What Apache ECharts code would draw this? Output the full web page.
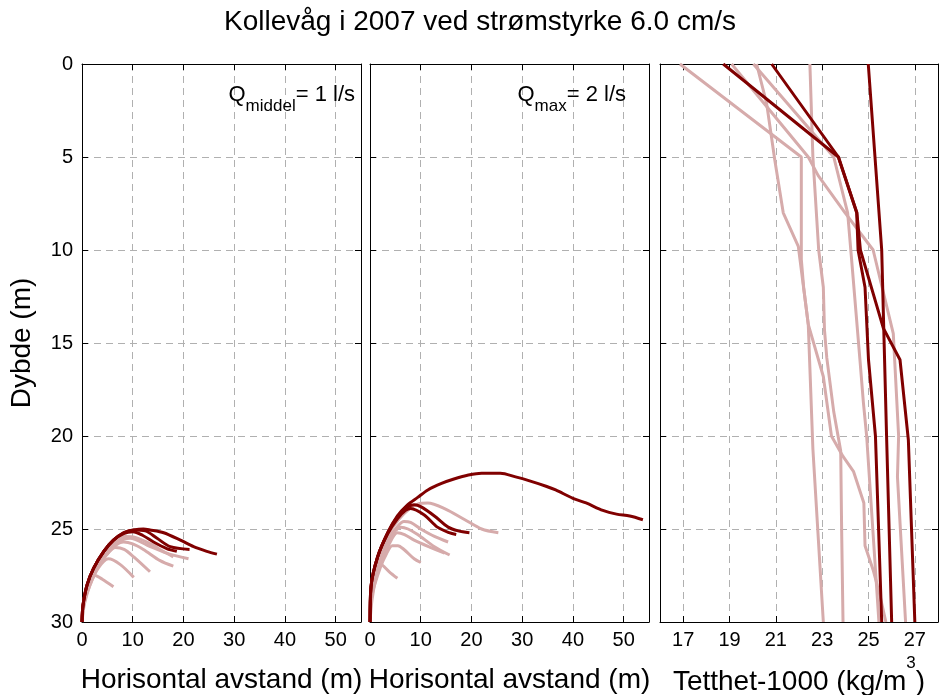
<!DOCTYPE html>
<html>
<head>
<meta charset="utf-8">
<script src="https://cdn.jsdelivr.net/npm/echarts@6/dist/echarts.min.js"></script>
<style>html,body{margin:0;padding:0;background:#fff}#c{width:940px;height:695px}</style>
</head>
<body>
<div id="c"></div>
<script>
// ---------- data ----------
const chartTitle = 'Kollevåg i 2007 ved strømstyrke 6.0 cm/s';
const depthTicks = [0, 5, 10, 15, 20, 25, 30];
const distanceTicks = [0, 10, 20, 30, 40, 50];
const densityTicks = [17, 19, 21, 23, 25, 27];

// Panel 1 (Q middel = 1 l/s): [horizontal distance m, depth m]
const middelDark = [
  [[0,30],[0.2,29.1],[1.0,28.0],[2.3,27.1],[4.3,26.2],[6.2,25.6],[8.2,25.2],[10.2,25.05],[12.1,25.0],[13.4,25.05],[16.1,25.2],[19.4,25.6],[22,25.95],[24.6,26.2],[26.6,26.35]],
  [[0,30],[0.2,29.1],[1.0,28.0],[2.3,27.1],[4.3,26.2],[6.2,25.6],[8.2,25.2],[10.2,25.05],[12.5,25.1],[14.8,25.5],[17.4,25.95],[21.2,26.1]],
  [[0,30],[0.2,29.1],[1.0,28.0],[2.3,27.1],[4.3,26.2],[6.2,25.6],[8.2,25.25],[10,25.15],[12,25.35],[14.1,25.7],[16.7,26.05],[18.7,26.2]]
];
const middelLight = [
  [[0,30],[0.3,29],[1.2,28],[2.6,27.1],[4.5,26.3],[6.5,25.8],[8.2,25.55],[9.5,25.5],[12.8,25.86],[16.7,26.3],[21,26.6]],
  [[0,30],[0.25,29],[1.1,28],[2.4,27.1],[4.4,26.25],[6.3,25.7],[8.5,25.4],[10.5,25.45],[13.5,25.8],[16,26.2],[18,26.5]],
  [[0,30],[0.3,29],[1.3,28],[2.8,27.1],[4.8,26.4],[6.5,25.9],[8.2,25.7],[10,25.8],[12.1,26.1],[15.4,26.7],[18,27.0]],
  [[0,30],[0.3,29],[1.4,28],[3,27.1],[4.8,26.4],[6.6,26.0],[8.3,26.1],[10.2,26.5],[13.4,27.3]],
  [[0,30],[0.4,29],[1.6,28],[3.2,27.1],[5.2,26.6],[7.5,26.9],[10.2,27.6]],
  [[0,30],[0.5,29],[1.6,28],[2.6,27.5],[4,27.7],[6.2,28.1]]
];

// Panel 2 (Q max = 2 l/s)
const maxDark = [
  [[0,30],[0.05,29.8],[0.2,28.1],[1.5,26.5],[3.5,25.2],[5.4,24.3],[7.4,23.7],[9.4,23.3],[11.4,22.9],[14.1,22.55],[16.7,22.3],[19.4,22.1],[22,22.0],[25.7,22.0],[28.7,22.2],[31.3,22.4],[34.7,22.7],[36.6,22.9],[40,23.35],[42.6,23.6],[45.9,24.0],[48.6,24.2],[51.2,24.3],[53.8,24.5]],
  [[0,30],[0.2,28.1],[1.5,26.5],[3.5,25.2],[5.4,24.35],[7.2,23.85],[8.7,23.7],[10,23.8],[12.7,24.3],[15.4,24.9],[17.4,25.1],[19.6,25.2]],
  [[0,30],[0.2,28.1],[1.5,26.5],[3.5,25.25],[5.4,24.45],[7,24.0],[8,23.9],[10.7,24.25],[13.3,24.9],[15.6,25.2],[17,25.3]]
];
const maxLight = [
  [[0,30],[0.2,28.2],[1.6,26.6],[3.6,25.3],[5.6,24.5],[7.6,23.95],[9.5,23.65],[11.4,23.6],[14.7,23.9],[18.7,24.5],[22,25.0],[25.3,25.2]],
  [[0,30],[0.25,28.3],[1.7,26.7],[3.7,25.5],[5.3,24.9],[6.7,24.6],[8,24.65],[10,25.0],[12.7,25.4],[15.4,25.7]],
  [[0,30],[0.3,28.4],[1.8,26.8],[3.6,25.7],[5,25.1],[6.1,24.9],[7.5,25.0],[9.4,25.3],[12.7,25.95],[15.7,26.4]],
  [[0,30],[0.3,28.5],[1.9,26.9],[3.6,25.9],[5.4,25.2],[6.8,25.3],[8.7,25.6],[12,26.0],[14.7,26.3]],
  [[0,30],[0.35,28.6],[2,27.1],[3.3,26.3],[4.4,25.9],[5.5,25.9],[6.7,26.1],[8.7,26.6],[10,26.8]],
  [[0,30],[0.4,28.8],[1.2,27.6],[2.1,26.9],[3.8,27.3],[5.4,27.65]]
];

// Panel 3: density profiles [density-1000 kg/m3, depth m]
const densityLight = [
  [[16.86,0],[22.1,5],[22.1,10.5],[22.2,12],[22.4,14],[22.6,20.7],[23.05,30]],
  [[22.47,0],[22.6,5],[22.85,10],[23.05,12],[23.1,14.3],[23.2,15.8],[23.5,18.7],[23.8,20.8],[23.84,25],[23.9,30]],
  [[20.17,0],[20.6,2.1],[20.96,5.2],[21.32,8],[21.97,9.8],[22.4,14],[23.05,16.8],[23.4,20],[23.9,21.1],[24.35,21.9],[24.8,23.6],[24.85,25.9],[25.2,27.2],[25.5,28.6],[25.75,30]],
  [[19.09,0],[22.4,5],[22.83,6],[23.99,8],[25.2,10],[26.07,14.5],[26.3,20],[26.25,22.2],[26.6,30]],
  [[20.03,0],[23.5,5],[24.1,8],[24.27,10.5],[24.63,15.9],[24.78,18.2],[24.92,20],[25.45,30]]
];
const densityDark = [
  [[18.73,0],[23.7,5],[24.49,8],[24.55,10],[24.85,12],[25.0,15.9],[25.3,20],[25.57,30]],
  [[20.82,0],[23.7,5],[24.5,8],[24.65,10],[25.64,14.2],[26.36,15.9],[26.72,20.2],[27.0,30]],
  [[24.99,0],[25.57,10],[25.78,20],[26.0,30]]
];

// ---------- styling ----------
const FONT = 'Liberation Sans, Arial, sans-serif';
const DARK = '#800000';
const LIGHT = '#d6abab';
const gridLine = {show: true, lineStyle: {color: '#b0b0b0', width: 1, type: [7, 5]}};
const tick = {show: true, inside: true, length: 6, lineStyle: {color: '#000', width: 1}};
const line = {show: true, onZero: false, lineStyle: {color: '#000', width: 1}};

const grids = [
  {left: 82, top: 64, width: 279, height: 558, outerBoundsMode: 'none', containLabel: false},
  {left: 370, top: 64, width: 279, height: 558, outerBoundsMode: 'none', containLabel: false},
  {left: 660, top: 64, width: 278, height: 558, outerBoundsMode: 'none', containLabel: false}
];

function bottomX(gi, cfg) {
  return Object.assign({
    type: 'value', gridIndex: gi, position: 'bottom',
    axisLine: line, axisTick: tick, splitLine: gridLine,
    axisLabel: {fontSize: 20, color: '#000', margin: 8, fontFamily: FONT, showMaxLabel: false},
    nameLocation: 'middle', nameGap: 44,
    nameTextStyle: {fontSize: 28, color: '#000', fontFamily: FONT}
  }, cfg);
}
function topX(gi, cfg) {
  return Object.assign({
    type: 'value', gridIndex: gi, position: 'top',
    axisLine: line, axisTick: tick, splitLine: {show: false}, axisLabel: {show: false}
  }, cfg);
}
function leftY(gi, showLabels, cfg) {
  return Object.assign({
    type: 'value', gridIndex: gi, position: 'left', inverse: true,
    min: 0, max: 30, interval: 5,
    axisLine: line, axisTick: tick, splitLine: gridLine,
    axisLabel: {show: showLabels, fontSize: 20, color: '#000', margin: 9, fontFamily: FONT}
  }, cfg);
}
function rightY(gi) {
  return {
    type: 'value', gridIndex: gi, position: 'right', inverse: true,
    min: 0, max: 30, interval: 5,
    axisLine: line, axisTick: tick, splitLine: {show: false}, axisLabel: {show: false}
  };
}

const distCfg = {min: 0, max: 55, interval: 10};
const densCfg = {min: 16, max: 28,
  axisTick: Object.assign({}, tick, {customValues: densityTicks})};

const xAxes = [
  bottomX(0, Object.assign({name: 'Horisontal avstand (m)'}, distCfg)),
  bottomX(1, Object.assign({name: 'Horisontal avstand (m)'}, distCfg)),
  bottomX(2, Object.assign({
    name: '{n|Tetthet-1000 (kg/m}{sup|3}{n|)}', nameGap: 33,
    nameTextStyle: {fontSize: 28, color: '#000', fontFamily: FONT,
      rich: {
        n: {fontSize: 28, lineHeight: 41, verticalAlign: 'bottom', color: '#000', fontFamily: FONT},
        sup: {fontSize: 17, lineHeight: 17, verticalAlign: 'top', color: '#000', fontFamily: FONT}
      }},
    axisLabel: {fontSize: 20, color: '#000', margin: 8, fontFamily: FONT, customValues: densityTicks}
  }, densCfg)),
  topX(0, distCfg), topX(1, distCfg), topX(2, densCfg)
];
const yAxes = [
  leftY(0, true, {name: 'Dybde (m)', nameLocation: 'middle', nameGap: 46,
    nameTextStyle: {fontSize: 28, color: '#000', fontFamily: FONT}}),
  leftY(1, false), leftY(2, false),
  rightY(0), rightY(1), rightY(2)
];

const series = [];
function addSet(sets, color, xi) {
  sets.forEach(function (d) {
    series.push({type: 'line', xAxisIndex: xi, yAxisIndex: xi, data: d,
      showSymbol: false, symbol: 'none', smooth: xi < 2 ? 0.3 : false,
      lineStyle: {color: color, width: 3}, silent: true});
  });
}
addSet(middelLight, LIGHT, 0);
addSet(middelDark, DARK, 0);
addSet(maxLight, LIGHT, 1);
addSet(maxDark, DARK, 1);
addSet(densityLight, LIGHT, 2);
addSet(densityDark, DARK, 2);

const qRich = {
  a: {fontSize: 22, lineHeight: 22, verticalAlign: 'top', color: '#000', fontFamily: FONT, fontWeight: 'normal'},
  b: {fontSize: 17, lineHeight: 17, verticalAlign: 'top', padding: [14, 0, 0, 0], color: '#000', fontFamily: FONT, fontWeight: 'normal'}
};

const option = {
  animation: false,
  backgroundColor: '#fff',
  textStyle: {fontFamily: FONT},
  title: [
    {text: chartTitle, left: 480, textAlign: 'center', top: 8, padding: 0,
      textStyle: {fontSize: 28, fontWeight: 'normal', color: '#000', fontFamily: FONT}},
    {text: '{a|Q}{b|middel}{a|= 1 l/s}', right: 940 - 355, top: 84, padding: 0,
      textStyle: {rich: qRich, fontWeight: 'normal'}},
    {text: '{a|Q}{b|max}{a|= 2 l/s}', right: 940 - 626, top: 84, padding: 0,
      textStyle: {rich: qRich, fontWeight: 'normal'}}
  ],
  grid: grids,
  xAxis: xAxes,
  yAxis: yAxes,
  series: series
};

const chart = echarts.init(document.getElementById('c'), null, {renderer: 'canvas'});
chart.setOption(option);
</script>
</body>
</html>
